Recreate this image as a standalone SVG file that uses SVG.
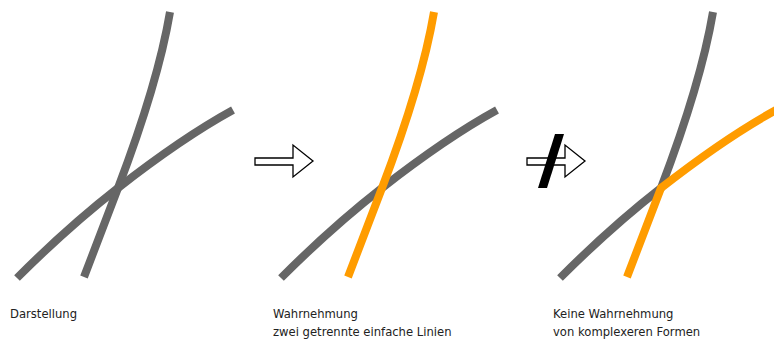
<svg xmlns="http://www.w3.org/2000/svg" width="774" height="342" viewBox="0 0 774 342">
  <style>
    .line { fill: none; stroke-width: 8; stroke-linecap: butt; stroke-linejoin: miter; }
    .gray { stroke: #666666; }
    .orange { stroke: #FF9C00; }
    .arrow { fill: #ffffff; stroke: #000000; stroke-width: 1.3; }
    .label { font-family: "DejaVu Sans", Verdana, sans-serif; font-size: 11.6px; fill: #222222; }
  </style>

  <!-- panel 1: two gray strokes crossing -->
  <g id="panel1">
    <path class="line gray" d="M170,12 Q158,83 118,188 L84,277"/>
    <path class="line gray" d="M17,278 Q68,227 118,188 Q182,138 233,110"/>
  </g>

  <!-- panel 2: steep stroke highlighted -->
  <g id="panel2" transform="translate(264,0)">
    <path class="line gray" d="M17,278 Q68,227 118,188 Q182,138 233,110"/>
    <path class="line orange" d="M170,12 Q158,83 118,188 L84,277"/>
  </g>

  <!-- panel 3: bent strokes through the crossing -->
  <g id="panel3" transform="translate(543,0)">
    <path class="line gray" d="M17,278 Q68,227 118,188 Q158,83 170,12"/>
    <path class="line orange" d="M84,277 L118,188 Q182,138 233,110"/>
  </g>

  <!-- connectors: hollow arrows, the second one struck through -->
  <g id="connectors">
    <polygon class="arrow" points="255,158 293,158 293,145 313,161 293,177 293,165 255,165"/>
    <polygon class="arrow" points="527,158 565,158 565,145 585,161 565,177 565,165 527,165"/>
    <polygon points="555,134 564,134 547,188 538,188" fill="#000000"/>
  </g>

  <g id="labels">
    <text class="label" x="10" y="318">Darstellung</text>
    <text class="label" x="273" y="318">Wahrnehmung</text>
    <text class="label" x="273" y="336">zwei getrennte einfache Linien</text>
    <text class="label" x="553" y="318">Keine Wahrnehmung</text>
    <text class="label" x="553" y="336">von komplexeren Formen</text>
  </g>
</svg>
